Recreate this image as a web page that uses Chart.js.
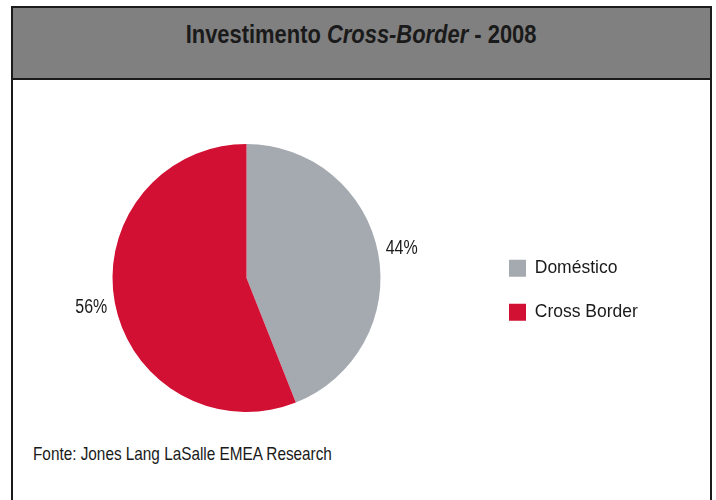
<!DOCTYPE html>
<html lang="pt">
<head>
<meta charset="utf-8">
<title>Investimento Cross-Border - 2008</title>
<script src="https://cdn.jsdelivr.net/npm/chart.js@4.4.1/dist/chart.umd.min.js"></script>
<style>
    html, body {
        margin: 0;
        padding: 0;
        width: 716px;
        height: 500px;
        overflow: hidden;
        background: #ffffff;
        font-family: "Liberation Sans", Arial, sans-serif;
        color: #1a1a1a;
    }
    .moldura {
        position: absolute;
        left: 11px;
        top: 6px;
        width: 697px;
        height: 600px;
        border: 2px solid #1b1b1b;
    }
    .titulo {
        height: 70px;
        background: #808080;
        border-bottom: 2px solid #1b1b1b;
        text-align: center;
        font-size: 26px;
        line-height: 26px;
        font-weight: bold;
    }
    /* fonte estreita: Arial esticado na horizontal */
    .titulo span {
        display: inline-block;
        margin-top: 13px;
        transform: scaleX(0.843);
        transform-origin: center;
        white-space: nowrap;
    }
    .fonte {
        position: absolute;
        left: 33px;
        top: 445px;
        font-size: 18.5px;
        line-height: 18.5px;
        white-space: nowrap;
        transform: scaleX(0.828);
        transform-origin: left;
    }
    #graficoInvestimento {
        position: absolute;
        left: 0;
        top: 0;
    }
</style>
</head>
<body>
<div class="moldura">
    <div class="titulo"><span>Investimento <i>Cross-Border</i> - 2008</span></div>
</div>
<div class="fonte">Fonte: Jones Lang LaSalle EMEA Research</div>
<canvas id="graficoInvestimento" width="716" height="500"></canvas>

<script>
const categorias = ['Doméstico', 'Cross Border'];
const percentuais = [44, 56];
const cores = ['#A5AAB1', '#D21034'];

const familia = '"Liberation Sans", Arial, sans-serif';
const tamanhoLegenda = 17.5;
const caixaLegenda = 17;
const espacoLegenda = 26.5;

// largura que o Chart.js reserva para a legenda, para deixar o círculo no lugar certo
const medida = document.createElement('canvas').getContext('2d');
medida.font = tamanhoLegenda + 'px ' + familia;
const maiorTexto = Math.max(...categorias.map(t => medida.measureText(t).width));
const larguraLegenda = espacoLegenda + caixaLegenda + tamanhoLegenda / 2 + maiorTexto + 10;
const inicioLegenda = 482.5;

// escreve o percentual de cada fatia do lado de fora do círculo
const rotulosPercentuais = {
    id: 'rotulosPercentuais',
    afterDatasetsDraw(chart) {
        const ctx = chart.ctx;
        const meta = chart.getDatasetMeta(0);
        meta.data.forEach((arco, i) => {
            const p = arco.getProps(['x', 'y', 'startAngle', 'endAngle', 'outerRadius'], true);
            const angulo = (p.startAngle + p.endAngle) / 2;
            const distancia = p.outerRadius + 24;
            ctx.save();
            ctx.translate(p.x + Math.cos(angulo) * distancia, p.y + Math.sin(angulo) * distancia);
            ctx.scale(0.82, 1);
            ctx.font = '19.5px ' + familia;
            ctx.fillStyle = '#1a1a1a';
            ctx.textAlign = 'center';
            ctx.textBaseline = 'middle';
            ctx.fillText(percentuais[i] + '%', 0, 0);
            ctx.restore();
        });
    }
};

Chart.defaults.font.family = familia;
Chart.defaults.color = '#1a1a1a';

new Chart(document.getElementById('graficoInvestimento'), {
    type: 'pie',
    data: {
        labels: categorias,
        datasets: [{
            data: percentuais,
            backgroundColor: cores,
            borderWidth: 0,
            radius: 134,
            clip: false
        }]
    },
    options: {
        responsive: false,
        animation: false,
        devicePixelRatio: 1,
        layout: {
            padding: {
                left: 2 * 246.5 - inicioLegenda,
                right: 716 - inicioLegenda - larguraLegenda,
                top: 208.5,
                bottom: 152.5
            }
        },
        plugins: {
            legend: {
                position: 'right',
                align: 'end',
                labels: {
                    boxWidth: caixaLegenda,
                    boxHeight: caixaLegenda,
                    padding: espacoLegenda,
                    font: { size: tamanhoLegenda },
                    color: '#1a1a1a'
                }
            },
            tooltip: { enabled: false }
        }
    },
    plugins: [rotulosPercentuais]
});
</script>
</body>
</html>
